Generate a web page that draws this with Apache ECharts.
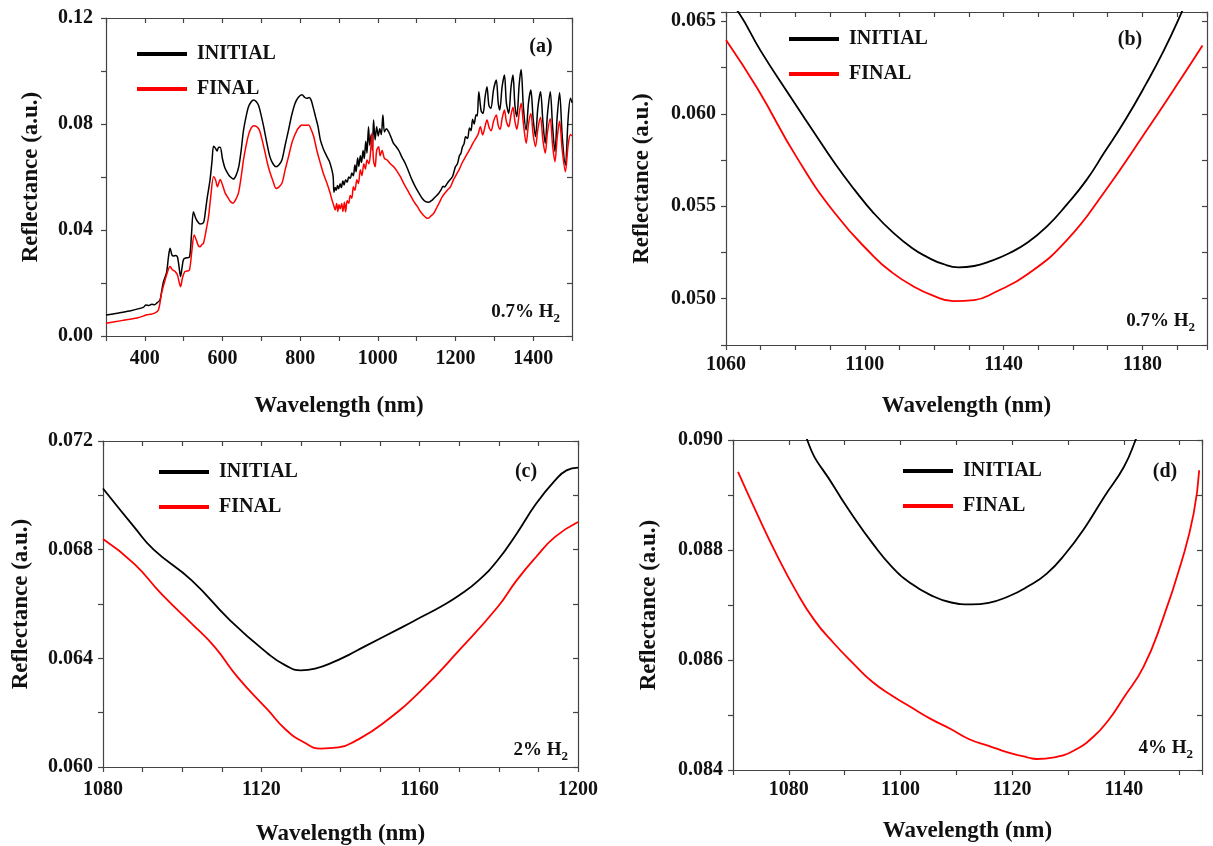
<!DOCTYPE html>
<html>
<head>
<meta charset="utf-8">
<title>Reflectance spectra</title>
<script src="https://cdn.jsdelivr.net/npm/echarts@6/dist/echarts.min.js"></script>
<style>
  html, body { margin: 0; padding: 0; background: #fff; }
  #chart { width: 1213px; height: 846px; }
</style>
</head>
<body>
<div id="chart"></div>
<script>
// ---- Panel (a): full spectrum, 0.7% H2 ----
const aInitial = [
  [300,0.0079],[330,0.0086],[360,0.0094],[396,0.0108],[403,0.0117],[410,0.0115],[418,0.0120],[425,0.0118],
  [432,0.0126],[439,0.0136],[444,0.0175],[448,0.0205],[456,0.0240],[461,0.0300],[465,0.0331],[470,0.0305],
  [474,0.0302],[479,0.0304],[484,0.0298],[488,0.0262],[492,0.0224],[496,0.0260],[500,0.0290],[507,0.0295],
  [515,0.0298],[520,0.0380],[525,0.0469],[530,0.0448],[534,0.0436],[542,0.0423],[551,0.0428],[556,0.0470],
  [560,0.0515],[568,0.0590],[573,0.0660],[577,0.0716],[582,0.0708],[586,0.0698],[590,0.0712],[594,0.0712],
  [600,0.0668],[606,0.0635],[615,0.0610],[622,0.0598],[628,0.0592],[635,0.0606],[642,0.0640],[648,0.0700],
  [654,0.0775],[661,0.0830],[667,0.0865],[674,0.0884],[680,0.0891],[686,0.0886],[693,0.0870],[700,0.0830],
  [706,0.0790],[714,0.0730],[722,0.0677],[730,0.0650],[738,0.0639],[745,0.0645],[753,0.0664],[761,0.0718],
  [770,0.0777],[778,0.0832],[787,0.0878],[795,0.0900],[805,0.0910],[812,0.0900],[818,0.0897],[823,0.0900],
  [828,0.0891],[834,0.0860],[840,0.0825],[846,0.0790],[852,0.0740],[860,0.0705],[869,0.0677],[875,0.0660],
  [882,0.0625],[885,0.0600],[887,0.0542],[890,0.0560],[893,0.0550],[896,0.0568],[899,0.0556],[903,0.0575],
  [906,0.0560],[910,0.0585],[913,0.0570],[917,0.0590],[921,0.0580],[925,0.0600],[929,0.0595],[933,0.0615],
  [937,0.0605],[941,0.0645],[944,0.0620],[948,0.0672],[951,0.0640],[955,0.0680],[958,0.0655],[962,0.0700],
  [965,0.0670],[969,0.0735],[972,0.0690],[976,0.0790],[979,0.0720],[983,0.0760],[986,0.0700],[989,0.0815],
  [993,0.0740],[997,0.0790],[1001,0.0755],[1005,0.0782],[1009,0.0760],[1013,0.0834],[1017,0.0770],[1022,0.0782],
  [1028,0.0770],[1034,0.0750],[1040,0.0728],[1047,0.0715],[1054,0.0700],[1062,0.0675],[1071,0.0650],[1080,0.0618],
  [1088,0.0589],[1097,0.0562],[1106,0.0539],[1114,0.0520],[1123,0.0507],[1131,0.0505],[1140,0.0513],[1148,0.0525],
  [1157,0.0539],[1163,0.0552],[1168,0.0565],[1172,0.0562],[1176,0.0570],[1183,0.0585],[1192,0.0601],[1197,0.0625],
  [1200,0.0639],[1205,0.0650],[1210,0.0680],[1214,0.0690],[1218,0.0714],[1222,0.0725],[1226,0.0752],[1231,0.0745],
  [1236,0.0785],[1240,0.0775],[1244,0.0818],[1248,0.0800],[1253,0.0835],[1256,0.0830],[1260,0.0922],[1266,0.0850],
  [1271,0.0840],[1276,0.0900],[1281,0.0941],[1286,0.0870],[1291,0.0859],[1298,0.0930],[1305,0.0966],[1310,0.0880],
  [1314,0.0853],[1320,0.0940],[1326,0.0985],[1331,0.0880],[1337,0.0840],[1343,0.0940],[1348,0.0985],[1353,0.0870],
  [1358,0.0828],[1364,0.0950],[1369,0.1006],[1375,0.0860],[1382,0.0777],[1388,0.0880],[1394,0.0928],[1400,0.0820],
  [1406,0.0752],[1412,0.0860],[1419,0.0922],[1425,0.0810],[1431,0.0727],[1437,0.0840],[1444,0.0922],[1450,0.0790],
  [1456,0.0696],[1462,0.0830],[1468,0.0918],[1475,0.0750],[1483,0.0645],[1490,0.0820],[1496,0.0897],[1500,0.0880]
];
const aFinal = [
  [300,0.0048],[340,0.0058],[380,0.0068],[396,0.0075],[405,0.0080],[415,0.0082],[425,0.0086],[435,0.0098],
  [443,0.0161],[450,0.0200],[458,0.0240],[465,0.0262],[471,0.0250],[478,0.0243],[484,0.0230],[488,0.0205],
  [492,0.0186],[497,0.0220],[503,0.0243],[509,0.0245],[515,0.0249],[521,0.0320],[527,0.0381],[533,0.0360],
  [538,0.0340],[542,0.0337],[547,0.0345],[551,0.0350],[558,0.0400],[564,0.0450],[570,0.0530],[577,0.0601],
  [582,0.0590],[587,0.0563],[591,0.0580],[594,0.0591],[600,0.0570],[607,0.0539],[615,0.0520],[620,0.0508],
  [627,0.0501],[634,0.0515],[641,0.0539],[648,0.0600],[654,0.0664],[661,0.0720],[667,0.0759],[674,0.0785],
  [680,0.0793],[688,0.0790],[695,0.0777],[702,0.0740],[710,0.0690],[716,0.0650],[723,0.0614],[730,0.0585],
  [738,0.0557],[745,0.0562],[753,0.0576],[761,0.0625],[770,0.0677],[780,0.0735],[792,0.0777],[800,0.0792],
  [805,0.0796],[812,0.0795],[822,0.0796],[828,0.0780],[835,0.0752],[843,0.0700],[852,0.0652],[860,0.0612],
  [869,0.0576],[876,0.0545],[882,0.0513],[887,0.0490],[890,0.0476],[894,0.0500],[897,0.0470],[900,0.0495],
  [903,0.0480],[907,0.0500],[910,0.0470],[914,0.0505],[917,0.0469],[921,0.0510],[925,0.0501],[929,0.0530],
  [933,0.0520],[937,0.0563],[941,0.0550],[946,0.0590],[950,0.0575],[955,0.0627],[959,0.0605],[964,0.0650],
  [968,0.0630],[972,0.0664],[977,0.0650],[981,0.0690],[985,0.0765],[989,0.0660],[993,0.0639],[997,0.0700],
  [1002,0.0714],[1006,0.0680],[1011,0.0700],[1017,0.0670],[1024,0.0664],[1032,0.0650],[1041,0.0639],[1050,0.0620],
  [1058,0.0601],[1067,0.0575],[1076,0.0551],[1085,0.0528],[1093,0.0507],[1102,0.0488],[1110,0.0469],[1118,0.0455],
  [1124,0.0447],[1129,0.0444],[1136,0.0452],[1144,0.0463],[1152,0.0485],[1159,0.0505],[1166,0.0526],[1172,0.0538],
  [1180,0.0552],[1187,0.0563],[1195,0.0590],[1204,0.0614],[1210,0.0630],[1216,0.0650],[1221,0.0664],[1227,0.0680],
  [1233,0.0695],[1238,0.0708],[1243,0.0722],[1247,0.0733],[1252,0.0745],[1258,0.0760],[1264,0.0790],[1270,0.0759],
  [1276,0.0790],[1281,0.0815],[1287,0.0785],[1292,0.0775],[1298,0.0810],[1305,0.0834],[1310,0.0795],[1315,0.0780],
  [1320,0.0820],[1326,0.0853],[1331,0.0810],[1337,0.0790],[1343,0.0835],[1348,0.0863],[1353,0.0810],[1358,0.0780],
  [1364,0.0840],[1369,0.0878],[1375,0.0800],[1382,0.0727],[1388,0.0800],[1394,0.0840],[1400,0.0760],[1406,0.0715],
  [1412,0.0780],[1419,0.0825],[1425,0.0740],[1431,0.0690],[1437,0.0770],[1444,0.0820],[1450,0.0720],[1456,0.0658],
  [1462,0.0750],[1468,0.0810],[1475,0.0700],[1483,0.0620],[1490,0.0720],[1496,0.0760],[1500,0.0755]
];

// ---- Panel (b): 1060-1200 nm, 0.7% H2 ----
const bInitial = [
  [1058,0.0668],[1063.6,0.06548],[1070,0.0634],[1078.0,0.06108],[1085,0.0591],[1091.4,0.05731],[1097,0.0559],
  [1102.6,0.05462],[1108,0.0536],[1113.7,0.05273],[1118,0.05225],[1122.5,0.05188],[1127,0.05170],
  [1131.5,0.05177],[1136,0.05202],[1141.6,0.05246],[1147,0.05305],[1152.7,0.05395],[1158,0.05505],
  [1163.8,0.0564],[1169,0.0579],[1175.0,0.05965],[1181,0.0616],[1186.1,0.0634],[1191.1,0.0654],[1195,0.0671]
];
const bFinal = [
  [1060,0.06399],[1069.1,0.06135],[1080.3,0.05767],[1091.4,0.05462],[1102.6,0.05228],[1108,0.05140],
  [1113.7,0.05070],[1119.5,0.05018],[1125.5,0.04987],[1131.5,0.04993],[1137.5,0.05035],[1147.1,0.05135],
  [1158.3,0.05318],[1169.4,0.05587],[1180.6,0.05893],[1191.7,0.06207],[1197.3,0.06369]
];

// ---- Panel (c): 1080-1200 nm, 2% H2 ----
const cInitial = [
  [1080,0.07025],[1087.9,0.06883],[1092.8,0.06800],[1102.4,0.06687],[1112.1,0.06540],[1121.7,0.06417],
  [1126,0.06375],[1130,0.06356],[1134,0.06364],[1138,0.06385],[1142,0.06412],[1145.9,0.06442],
  [1155.6,0.06515],[1160.4,0.06552],[1165.2,0.06589],[1170.0,0.06632],[1174.9,0.06687],[1179.7,0.06761],
  [1184.5,0.06859],[1189.4,0.06969],[1194.2,0.07055],[1197.1,0.07092],[1200,0.07102]
];
const cFinal = [
  [1080,0.06839],[1087.9,0.06748],[1094.7,0.06638],[1102.4,0.06528],[1108.2,0.06442],[1114.0,0.06331],
  [1121.7,0.06209],[1126,0.06140],[1130.5,0.06093],[1135,0.06068],[1139.5,0.06072],[1144,0.06098],
  [1150.7,0.06160],[1160.4,0.06282],[1170.0,0.06430],[1179.7,0.06589],[1184.5,0.06687],[1189.4,0.06773],
  [1194.2,0.06847],[1200,0.06902]
];

// ---- Panel (d): 1070-1154 nm, 4% H2 ----
const dInitial = [
  [1082,0.0908],[1083.3,0.0900],[1088.1,0.08915],[1091.6,0.08860],[1095.0,0.08812],[1098.5,0.08769],
  [1101.9,0.08739],[1105.4,0.08718],[1108.9,0.08705],[1112.7,0.08701],[1115.8,0.08704],[1119.2,0.08715],
  [1122.7,0.08733],[1126.2,0.08757],[1129.6,0.08794],[1133.1,0.08842],[1136.5,0.08897],[1140.0,0.08951],
  [1142.1,0.0900],[1143.5,0.0904]
];
const dFinal = [
  [1070.9,0.08942],[1074.3,0.08866],[1077.7,0.08794],[1081.2,0.08727],[1084.6,0.08672],[1088.1,0.08630],
  [1091.6,0.08593],[1095.0,0.08560],[1098.5,0.08535],[1101.9,0.08514],[1105.4,0.08493],[1108.9,0.08475],
  [1112.3,0.08456],[1115.8,0.08444],[1119.2,0.08432],[1122.7,0.08423],[1124.4,0.08420],[1127.5,0.08423],
  [1131.0,0.08435],[1134.5,0.08460],[1137.2,0.08490],[1140.0,0.08532],[1143.5,0.08587],[1146.9,0.08672],
  [1150.4,0.08781],[1152.5,0.08866],[1153.5,0.08945]
];

// Axis ranges, tick steps and labelled steps for each panel
const panels = [
  { id: 'a', tag: '(a)', gas: '0.7% H', initial: aInitial, final: aFinal,
    x: { min: 300, max: 1500, tick: 100, label: 200, base: 0, dec: 0 },
    y: { min: 0, max: 0.12, tick: 0.02, label: 0.04, dec: 2 } },
  { id: 'b', tag: '(b)', gas: '0.7% H', initial: bInitial, final: bFinal,
    x: { min: 1060, max: 1198.6, tick: 10, label: 40, base: 1060, dec: 0 },
    y: { min: 0.0475, max: 0.0655, tick: 0.0025, label: 0.005, dec: 3 } },
  { id: 'c', tag: '(c)', gas: '2% H', initial: cInitial, final: cFinal,
    x: { min: 1080, max: 1200, tick: 10, label: 40, base: 1080, dec: 0 },
    y: { min: 0.060, max: 0.072, tick: 0.002, label: 0.004, dec: 3 } },
  { id: 'd', tag: '(d)', gas: '4% H', initial: dInitial, final: dFinal,
    x: { min: 1070, max: 1154, tick: 10, label: 20, base: 0, dec: 0 },
    y: { min: 0.084, max: 0.090, tick: 0.001, label: 0.002, dec: 3 } }
];

const seriesNames = ['INITIAL', 'FINAL'];
const seriesColors = ['#000000', '#ff0000'];

// Page layout (pixels)
const layout = {
  a: { grid: { left: 106, top: 18, width: 466, height: 318 }, yGap: 63, xGap: 59, xMargin: 13, yMargin: 13,
       lw: 1.5, smooth: 0.3, legend: { left: 132, top: 39 }, tagPos: [541, 47], gasPos: [560, 312] },
  b: { grid: { left: 726, top: 12, width: 481, height: 333 }, yGap: 72, xGap: 50, xMargin: 10, yMargin: 10,
       lw: 1.8, smooth: 0.5, legend: { left: 784, top: 24 }, tagPos: [1130, 40], gasPos: [1195, 321] },
  c: { grid: { left: 103, top: 441, width: 475, height: 326 }, yGap: 70, xGap: 56, xMargin: 13, yMargin: 10,
       lw: 1.8, smooth: 0.5, legend: { left: 154, top: 457 }, tagPos: [526, 472], gasPos: [568, 750] },
  d: { grid: { left: 733, top: 440, width: 469, height: 330 }, yGap: 72, xGap: 50, xMargin: 10, yMargin: 10,
       lw: 1.8, smooth: 0.5, legend: { left: 898, top: 456 }, tagPos: [1165, 472], gasPos: [1193, 748] }
};

const FONT = 'Liberation Serif';
const TXT = '#111';
const AXIS = '#444444';

function onStep(v, base, step) {
  const q = (v - base) / step;
  return Math.abs(q - Math.round(q)) < 1e-6;
}

const grids = [], xAxes = [], yAxes = [], series = [], legends = [], graphics = [];
const measureCtx = document.createElement('canvas').getContext('2d');
const axisLineStyle = { color: AXIS, width: 1.2 };
const labelStyle = { fontFamily: FONT, fontWeight: 'bold', fontSize: 20, color: TXT };
const nameStyle = { fontFamily: FONT, fontWeight: 'bold', fontSize: 23, color: TXT };

// bottom + left axes carry labels and titles
panels.forEach((p, i) => {
  const L = layout[p.id];
  grids.push(Object.assign({ containLabel: false, outerBoundsMode: 'none' }, L.grid));

  xAxes.push({
    type: 'value', gridIndex: i, position: 'bottom', min: p.x.min, max: p.x.max, interval: p.x.tick,
    axisLine: { show: true, onZero: false, lineStyle: axisLineStyle },
    axisTick: { show: true, inside: false, length: 5, lineStyle: axisLineStyle },
    splitLine: { show: false },
    axisLabel: Object.assign({ margin: L.xMargin,
      formatter: v => onStep(v, p.x.base, p.x.label) ? v.toFixed(p.x.dec) : '' }, labelStyle),
    name: 'Wavelength (nm)', nameLocation: 'middle', nameGap: L.xGap, nameTextStyle: nameStyle,
    nameMoveOverlap: false
  });
  yAxes.push({
    type: 'value', gridIndex: i, position: 'left', min: p.y.min, max: p.y.max, interval: p.y.tick,
    axisLine: { show: true, onZero: false, lineStyle: axisLineStyle },
    axisTick: { show: true, inside: false, length: 5, lineStyle: axisLineStyle },
    splitLine: { show: false },
    axisLabel: Object.assign({ margin: L.yMargin,
      formatter: v => onStep(v, 0, p.y.label) ? v.toFixed(p.y.dec) : '' }, labelStyle),
    name: 'Reflectance (a.u.)', nameLocation: 'middle', nameGap: L.yGap, nameRotate: 90,
    nameTextStyle: nameStyle, nameMoveOverlap: false
  });
});
// top + right axes close the frame with inward ticks
panels.forEach((p, i) => {
  xAxes.push({
    type: 'value', gridIndex: i, position: 'top', min: p.x.min, max: p.x.max, interval: p.x.tick,
    axisLine: { show: true, onZero: false, lineStyle: axisLineStyle },
    axisTick: { show: true, inside: true, length: 5, lineStyle: axisLineStyle },
    axisLabel: { show: false }, splitLine: { show: false }
  });
  yAxes.push({
    type: 'value', gridIndex: i, position: 'right', min: p.y.min, max: p.y.max, interval: p.y.tick,
    axisLine: { show: true, onZero: false, lineStyle: axisLineStyle },
    axisTick: { show: true, inside: true, length: 5, lineStyle: axisLineStyle },
    axisLabel: { show: false }, splitLine: { show: false }
  });
});

panels.forEach((p, i) => {
  const L = layout[p.id];
  [p.initial, p.final].forEach((data, k) => {
    series.push({
      type: 'line', name: seriesNames[k], xAxisIndex: i, yAxisIndex: i, data,
      showSymbol: false, symbol: 'none', smooth: L.smooth,
      clip: true, lineStyle: { color: seriesColors[k], width: L.lw }, itemStyle: { color: seriesColors[k] },
      z: 3 + k
    });
  });

  legends.push({
    orient: 'vertical', left: L.legend.left, top: L.legend.top, itemWidth: 50, itemHeight: 4,
    itemGap: 15, icon: 'rect', selectedMode: false, data: seriesNames,
    textStyle: { fontFamily: FONT, fontWeight: 'bold', fontSize: 20, color: TXT, padding: [0, 0, 0, 5] }
  });

  const tagFont = 'bold 20px "' + FONT + '"';
  graphics.push({
    type: 'text', x: L.tagPos[0], y: L.tagPos[1],
    style: { text: p.tag, font: tagFont, fill: TXT, align: 'center', verticalAlign: 'middle',
             textAlign: 'center', textVerticalAlign: 'middle' }
  });

  // gas concentration label with subscript 2
  const mainFont = 'bold 19px "' + FONT + '"';
  const subFont = 'bold 13px "' + FONT + '"';
  measureCtx.font = mainFont;
  const w1 = measureCtx.measureText(p.gas).width;
  measureCtx.font = subFont;
  const w2 = measureCtx.measureText('2').width;
  const x0 = L.gasPos[0] - w1 - w2;
  graphics.push({
    type: 'text', x: x0, y: L.gasPos[1],
    style: { text: p.gas, font: mainFont, fill: TXT, align: 'left', verticalAlign: 'middle',
             textAlign: 'left', textVerticalAlign: 'middle' }
  });
  graphics.push({
    type: 'text', x: x0 + w1, y: L.gasPos[1] + 7,
    style: { text: '2', font: subFont, fill: TXT, align: 'left', verticalAlign: 'middle',
             textAlign: 'left', textVerticalAlign: 'middle' }
  });
});

const chart = echarts.init(document.getElementById('chart'), null, { renderer: 'canvas' });
chart.setOption({
  animation: false,
  backgroundColor: '#ffffff',
  grid: grids,
  xAxis: xAxes,
  yAxis: yAxes,
  legend: legends,
  series,
  graphic: graphics
});
</script>
</body>
</html>
